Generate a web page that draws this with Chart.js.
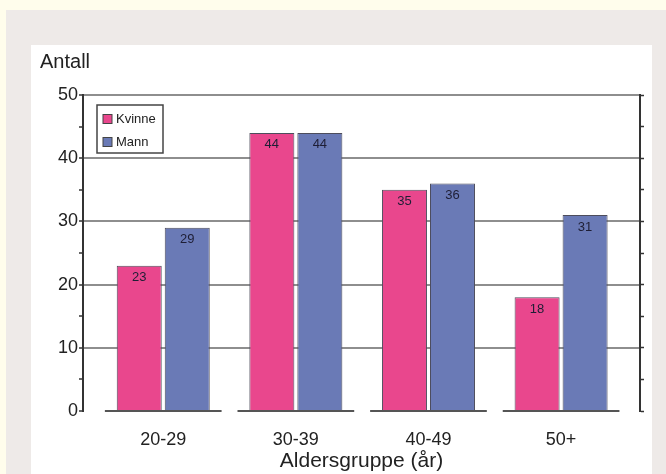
<!DOCTYPE html>
<html>
<head>
<meta charset="utf-8">
<script src="https://cdn.jsdelivr.net/npm/chart.js@4/dist/chart.umd.min.js"></script>
<style>
  html, body { margin: 0; padding: 0; }
  body { width: 666px; height: 474px; background: #fffdec; position: relative; overflow: hidden; }
  #frame { position: absolute; left: 6px; top: 10px; right: 0; bottom: 0; background: #eeeae8; }
  #sheet { position: absolute; left: 31px; top: 45px; width: 621px; bottom: 0; background: #ffffff; }
  #c { position: absolute; left: 0; top: 0; }
</style>
</head>
<body>
<div id="frame"></div>
<div id="sheet"></div>
<canvas id="c" width="666" height="474"></canvas>
<script>
// Aldersgrupper og antall per kjønn
const categories = ['20-29', '30-39', '40-49', '50+'];
const kvinne = [23, 44, 35, 18];
const mann = [29, 44, 36, 31];
const seriesNames = ['Kvinne', 'Mann'];
const yTicks = [0, 10, 20, 30, 40, 50];

const pink = '#e9478d';
const blue = '#6a7ab6';
const axisDark = '#333333';
const gridGray = '#8e8e8e';

Chart.defaults.font.family = "'Liberation Sans', Arial, sans-serif";
Chart.defaults.color = '#222222';

// Legend box in the upper left corner of the plot
const boxedLegend = {
  id: 'boxedLegend',
  afterDraw(chart) {
    const { ctx, chartArea } = chart;
    const x0 = chartArea.left + 14, y0 = chartArea.top + 10;
    const w = 66, h = 48;
    ctx.save();
    ctx.fillStyle = '#ffffff';
    ctx.fillRect(x0, y0, w, h);
    ctx.strokeStyle = '#444444';
    ctx.lineWidth = 1.5;
    ctx.strokeRect(x0, y0, w, h);
    ctx.font = "13px 'Liberation Sans', Arial, sans-serif";
    ctx.textBaseline = 'middle';
    ctx.textAlign = 'left';
    chart.data.datasets.forEach((ds, i) => {
      const cy = y0 + 14 + i * 23;
      ctx.fillStyle = ds.backgroundColor;
      ctx.fillRect(x0 + 6, cy - 4.5, 9, 9);
      ctx.strokeStyle = '#444444';
      ctx.lineWidth = 1;
      ctx.strokeRect(x0 + 6, cy - 4.5, 9, 9);
      ctx.fillStyle = '#222222';
      ctx.fillText(ds.label, x0 + 19, cy + 0.5);
    });
    ctx.restore();
  }
};

// Baseline drawn as one segment under each age group, plus values on bars
const groupDecor = {
  id: 'groupDecor',
  afterDatasetsDraw(chart) {
    const { ctx, scales } = chart;
    const x = scales.x, y = scales.y;
    const base = y.getPixelForValue(0);
    ctx.save();
    ctx.strokeStyle = '#555555';
    ctx.lineWidth = 2;
    categories.forEach((c, i) => {
      ctx.beginPath();
      ctx.moveTo(x.getPixelForValue(i - 0.44), base);
      ctx.lineTo(x.getPixelForValue(i + 0.44), base);
      ctx.stroke();
    });
    ctx.font = "13px 'Liberation Sans', Arial, sans-serif";
    ctx.fillStyle = '#1e1e35';
    ctx.textAlign = 'center';
    ctx.textBaseline = 'middle';
    chart.data.datasets.forEach((ds, di) => {
      const meta = chart.getDatasetMeta(di);
      meta.data.forEach((bar, i) => {
        ctx.fillText(String(ds.data[i].y), bar.x, bar.y + 12);
      });
    });
    ctx.restore();
  }
};

new Chart(document.getElementById('c'), {
  type: 'bar',
  data: {
    datasets: [
      {
        label: seriesNames[0],
        data: kvinne.map((v, i) => ({ x: i, y: v })),
        backgroundColor: pink,
        borderColor: '#4d4d5c',
        borderWidth: 1,
        categoryPercentage: 0.724,
        barPercentage: 0.9375
      },
      {
        label: seriesNames[1],
        data: mann.map((v, i) => ({ x: i, y: v })),
        backgroundColor: blue,
        borderColor: '#4d4d5c',
        borderWidth: 1,
        categoryPercentage: 0.724,
        barPercentage: 0.9375
      }
    ]
  },
  options: {
    responsive: false,
    animation: false,
    layout: { padding: { left: 40, top: 50, right: 22, bottom: 0 } },
    plugins: {
      legend: { display: false },
      tooltip: { enabled: false },
      title: {
        display: true,
        text: 'Antall',
        align: 'start',
        color: '#222222',
        font: { size: 20, weight: 'normal' },
        padding: { top: 0, bottom: 21 }
      }
    },
    scales: {
      x: {
        type: 'linear',
        offset: false,
        min: -0.605,
        max: 3.595,
        grid: { display: false, offset: false },
        border: { display: false },
        afterBuildTicks(scale) {
          scale.ticks = categories.map((c, i) => ({ value: i }));
        },
        afterFit(scale) { scale.height = 63; },
        ticks: {
          padding: 10,
          color: '#222222',
          font: { size: 18 },
          maxRotation: 0,
          autoSkip: false,
          callback: (v) => categories[v]
        },
        title: {
          display: true,
          text: 'Aldersgruppe (år)',
          color: '#222222',
          font: { size: 21 },
          padding: { top: 0, bottom: 0 }
        }
      },
      y: {
        position: 'left',
        min: yTicks[0],
        max: yTicks[yTicks.length - 1],
        afterFit(scale) { scale.width = 43; },
        border: { display: true, color: axisDark, width: 2 },
        grid: {
          color: (ctx) => (ctx.tick && ctx.tick.value % 10 === 0 && ctx.tick.value !== 0) ? gridGray : 'rgba(0,0,0,0)',
          lineWidth: 2,
          tickColor: axisDark,
          tickWidth: 1.5,
          tickLength: 4
        },
        ticks: {
          stepSize: 5,
          padding: 1,
          color: '#222222',
          font: { size: 18 },
          callback: (v) => (yTicks.includes(v) ? String(v) : '')
        }
      },
      y2: {
        position: 'right',
        min: yTicks[0],
        max: yTicks[yTicks.length - 1],
        border: { display: true, color: axisDark, width: 2 },
        grid: {
          drawOnChartArea: false,
          tickColor: axisDark,
          tickWidth: 1.5,
          tickLength: 4
        },
        ticks: { stepSize: 5, display: false }
      }
    }
  },
  plugins: [groupDecor, boxedLegend]
});
</script>
</body>
</html>
